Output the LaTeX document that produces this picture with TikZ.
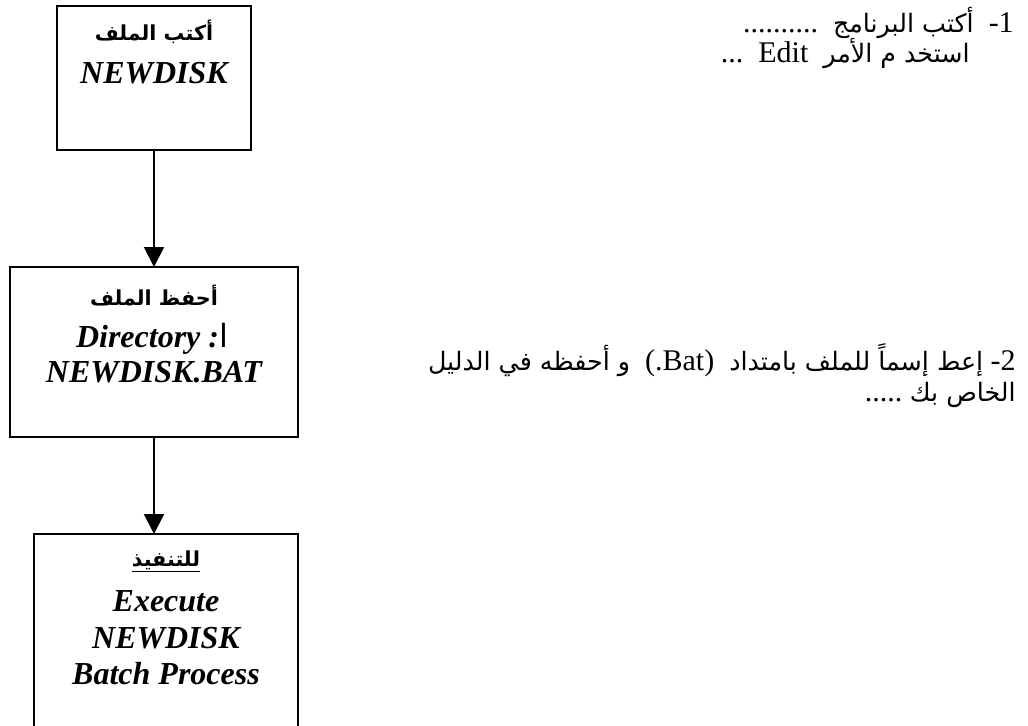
\documentclass[tikz,border=0pt]{standalone}
\usepackage{fontspec}
\setmainfont{Liberation Serif}
\newfontfamily\arabicfont[Script=Arabic]{DejaVu Sans}
\TeXXeTstate=1
\usetikzlibrary{arrows.meta}
\newcommand{\AR}[1]{{\arabicfont\beginR #1\endR}}
\newcommand{\ARr}[1]{{\fontsize{19}{22}\selectfont\arabicfont\beginR #1\endR}}
\begin{document}
\begin{tikzpicture}[x=0.75pt,y=-0.75pt,
  box/.style={draw,line width=1.5pt,inner sep=0pt,outer sep=0pt},
  arr/.style={line width=1.5pt,-{Triangle[length=15pt,width=15pt]}},
  boxlat/.style={anchor=base,inner sep=0pt,font=\fontsize{24}{28}\selectfont\bfseries\itshape},
  boxar/.style={anchor=base,inner sep=0pt,font=\fontsize{15.5}{18}\selectfont\bfseries},
  rtext/.style={anchor=base east,inner sep=0pt,font=\fontsize{22.5}{26}\selectfont}]
\useasboundingbox (0,0) rectangle (1028,725);
\clip (0,0) rectangle (1028,725);
% boxes
\node[box,minimum width=145.5pt,minimum height=108pt] (box1) at (154,77.5) {};
\node[box,minimum width=216pt,minimum height=127.5pt] (box2) at (154,352) {};
\node[box,minimum width=198pt,minimum height=165pt] (box3) at (166,644) {};
% arrows
\draw[arr] (box1.south) -- (box2.north);
\draw[arr] (box2.south) -- (box2.south |- box3.north);
% box 1 text
\node[boxar] (t1a) at (154,40) {\AR{أكتب الملف}};
\node[boxlat] (t1b) at (154,83) {NEWDISK};
% box 2 text
\node[boxar] (t2a) at (154,305) {\AR{أحفظ الملف}};
\node[boxlat] (t2b) at (152,347) {Directory :{\arabicfont\upshape\mdseries ا}};
\node[boxlat] (t2c) at (154,382) {NEWDISK.BAT};
% box 3 text
\node[boxar] (t3a) at (166,566) {\underline{\AR{للتنفيذ}}};
\node[boxlat] (t3b) at (166,611) {Execute};
\node[boxlat] (t3c) at (166,648) {NEWDISK};
\node[boxlat] (t3d) at (166,684) {Batch Process};
% right text
\node[rtext] (r1) at (1014,32) {..........\ \ \ARr{أكتب البرنامج}\ \ -1};
\node[rtext] (r1b) at (970,62) {...\ \ Edit\ \ \ARr{استخد م الأمر}};
\node[rtext] (r2) at (1016,370) {\ARr{و أحفظه في الدليل}\ \ (.Bat)\ \ \ARr{إعط إسماً للملف بامتداد}\ -2};
\node[rtext] (r2b) at (1016,401) {.....\ \ARr{الخاص بك}};
\end{tikzpicture}
\end{document}
